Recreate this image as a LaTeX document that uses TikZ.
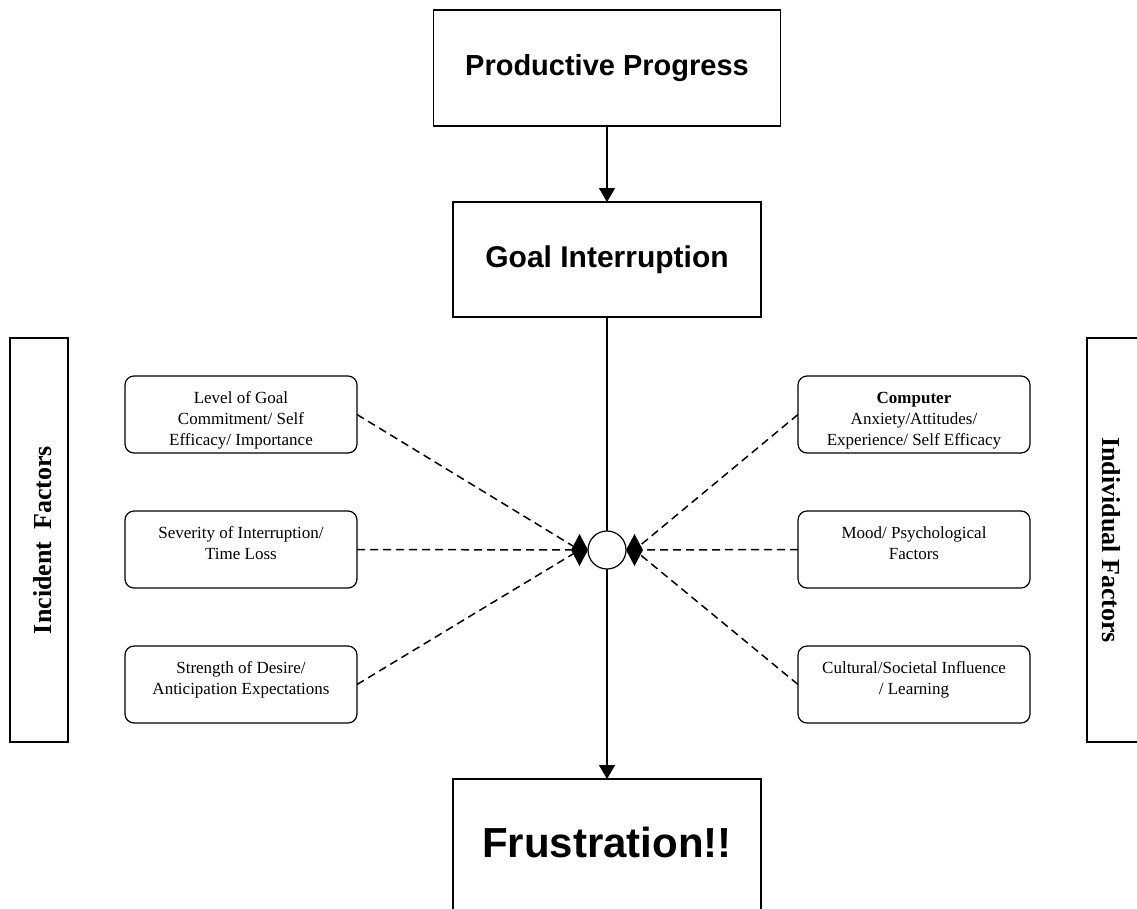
\documentclass[tikz,border=0pt]{standalone}
\usepackage{fontspec}
\setmainfont{Liberation Serif}
\setsansfont{Liberation Sans}
\usetikzlibrary{arrows.meta,shapes.geometric}
\begin{document}
\begin{tikzpicture}[x=1pt,y=-1pt,
  every node/.style={inner sep=0pt, outer sep=0pt},
  bigbox/.style={draw, line width=1.2pt, rectangle, font=\sffamily\bfseries\fontsize{29}{34}\selectfont},
  factorbox/.style={draw, line width=1.2pt, rounded corners=9pt, minimum width=232pt, minimum height=77pt},
  factortext/.style={anchor=north, align=center, font=\fontsize{17}{21}\selectfont},
  sidebox/.style={draw, line width=1.2pt},
  sidelabel/.style={font=\bfseries\fontsize{26}{30}\selectfont},
  flow/.style={line width=1.2pt, -{Triangle[length=14pt,width=16pt]}},
  link/.style={line width=1.5pt, dash pattern=on 8pt off 5pt},
  tipmark/.style={diamond, fill=black, minimum width=17pt, minimum height=32pt},
]
\useasboundingbox (0,0) rectangle (1137,908);
\clip (0,0) rectangle (1137,908);
\fill[white] (0,0) rectangle (1137,908);

% main chain
\node[bigbox, minimum width=347pt, minimum height=116pt] (pp) at (607,68) {Productive Progress};
\node[bigbox, minimum width=308pt, minimum height=115pt, font=\sffamily\bfseries\fontsize{30}{34}\selectfont] (gi) at (607,259.5) {Goal Interruption};
\node[bigbox, minimum width=308pt, minimum height=140pt, anchor=north] (fr) at (607,779) {};
\node[font=\sffamily\bfseries\fontsize{42}{48}\selectfont] (frt) at (607,842) {Frustration!!};
\node[draw, circle, line width=1.2pt, minimum size=38pt] (jn) at (607,550) {};
\node[tipmark] (dl) at (579.5,550) {};
\node[tipmark] (dr) at (634.5,550) {};

\draw[flow] (pp.south) -- (gi.north);
\draw[line width=1.2pt] (gi.south) -- (jn.north);
\draw[flow] (jn.south) -- (fr.north);

% side panels
\node[sidebox, minimum width=58pt, minimum height=404pt] (inc) at (39,540) {};
\node[sidelabel, rotate=90] (inct) at (43,540) {Incident\hspace{12pt}Factors};
\node[sidebox, minimum width=70pt, minimum height=404pt] (ind) at (1122,540) {};
\node[sidelabel, rotate=-90] (indt) at (1111,540) {Individual Factors};

% incident factors
\node[factorbox] (l1) at (241,414.5) {};
\node[factorbox] (l2) at (241,549.5) {};
\node[factorbox] (l3) at (241,684.5) {};
\node[factortext] (l1t) at ([yshift=-16pt]l1.north) {Level of Goal\\Commitment/ Self\\Efficacy/ Importance};
\node[factortext] (l2t) at ([yshift=-16pt]l2.north) {Severity of Interruption/\\Time Loss};
\node[factortext] (l3t) at ([yshift=-16pt]l3.north) {Strength of Desire/\\Anticipation Expectations};

% individual factors
\node[factorbox] (r1) at (914,414.5) {};
\node[factorbox] (r2) at (914,549.5) {};
\node[factorbox] (r3) at (914,684.5) {};
\node[factortext] (r1t) at ([yshift=-16pt]r1.north) {\textbf{Computer}\\Anxiety/Attitudes/\\Experience/ Self Efficacy};
\node[factortext] (r2t) at ([yshift=-16pt]r2.north) {Mood/ Psychological\\Factors};
\node[factortext] (r3t) at ([yshift=-16pt]r3.north) {Cultural/Societal Influence\\/ Learning};

% dashed influences into the junction
\draw[link] (l1.east) -- (dl);
\draw[link] (l2.east) -- (dl);
\draw[link] (l3.east) -- (dl);
\draw[link] (r1.west) -- (dr);
\draw[link] (r2.west) -- (dr);
\draw[link] (r3.west) -- (dr);
\end{tikzpicture}
\end{document}
